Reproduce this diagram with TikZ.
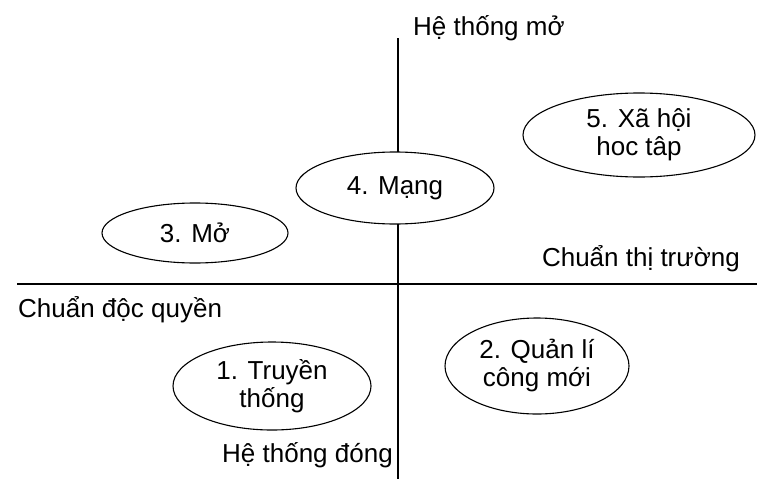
\documentclass[tikz,border=0pt]{standalone}
\usepackage{fontspec}
\setmainfont{Liberation Sans}
\usetikzlibrary{shapes.geometric}
\begin{document}
\begin{tikzpicture}[x=1pt,y=-1pt,
  axis/.style={line width=1.6pt},
  oval/.style={ellipse, draw, line width=1.1pt, fill=white, inner sep=0pt, align=center, font=\fontsize{26}{28}\selectfont},
  lbl/.style={font=\fontsize{26}{28}\selectfont, inner sep=0pt}]
\useasboundingbox (0,0) rectangle (757,479);
\coordinate (vt) at (398,38);
\coordinate (vb) at (398,479);
\coordinate (hl) at (17,284);
\coordinate (hr) at (757,284);
\draw[axis] (vt) -- (vb);
\draw[axis] (hl) -- (hr);
\node[oval, minimum width=186pt, minimum height=60pt] (n3) at (195,233) {3. Mở};
\node[oval, minimum width=198pt, minimum height=72pt] (n4) at (395,188) {4. Mạng};
\node[oval, minimum width=232pt, minimum height=84pt] (n5) at (639,135) {5. Xã hội\\hoc tâp};
\node[oval, minimum width=198pt, minimum height=88pt] (n1) at (272,386) {1. Truyền\\thống};
\node[oval, minimum width=184pt, minimum height=96pt] (n2) at (537,366) {2. Quản lí\\công mới};
\node[lbl, anchor=base west] (top) at (413,35) {Hệ thống mở};
\node[lbl, anchor=base east] (mkt) at (740,266) {Chuẩn thị trường};
\node[lbl, anchor=base west] (prop) at (18,317) {Chuẩn độc quyền};
\node[lbl, anchor=base east] (closed) at (393,462) {Hệ thống đóng};
\end{tikzpicture}
\end{document}
